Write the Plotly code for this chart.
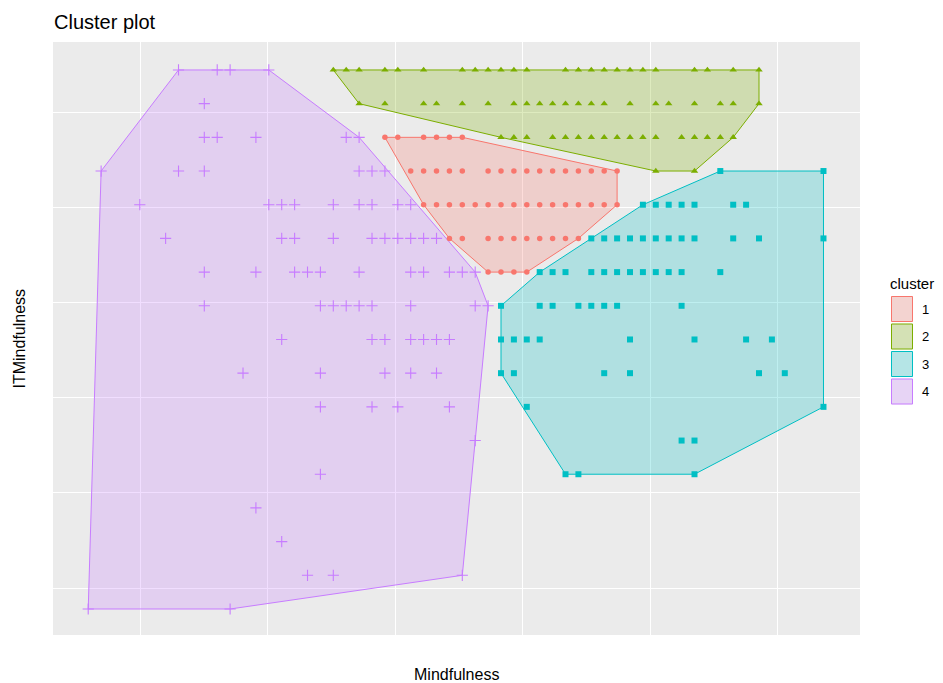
import plotly.graph_objects as go

# The page adds an 8px body margin; the figure is sized/offset to match the
# 943x683 window, and pixel coordinates below are window pixels.
OFF = 8
W, H = 943 - OFF, 683 - OFF

cluster_ids = ["1", "2", "3", "4"]
colors = ["#F8766D", "#7CAE00", "#00BFC4", "#C77CFF"]
symbols = ["circle", "triangle-up", "square", "cross-thin"]
marker_sizes = [5.5, 6.5, 6, 8]

# ITMindfulness level -> list of Mindfulness levels, per cluster
c1_rows = {
    15: [24, 25, 27, 28, 29, 30],
    14: [26, 27, 28, 29, 30, 32, 33, 34, 35, 36, 37, 38, 39, 40, 41, 42],
    13: [27, 28, 29, 30, 31, 32, 33, 34, 35, 36, 37, 38, 39, 40, 41, 42],
    12: [29, 30, 32, 33, 34, 35, 36, 37, 38, 39],
    11: [32, 33, 34, 35],
}
c2_rows = {
    17: [20, 21, 22, 24, 25, 27, 30, 31, 32, 33, 34, 35, 38, 39, 40, 41, 42,
         43, 44, 45, 48, 49, 51, 53],
    16: [22, 24, 27, 28, 30, 32, 34, 35, 36, 37, 38, 39, 40, 41, 43, 45, 46,
         48, 50, 51, 53],
    15: [33, 34, 35, 37, 38, 39, 40, 41, 42, 43, 44, 45, 47, 48, 49, 50, 51],
    14: [45, 48],
}
c3_rows = {
    14: [50, 58],
    13: [44, 45, 46, 47, 48, 51, 52],
    12: [40, 41, 42, 43, 44, 45, 46, 47, 48, 51, 53, 58],
    11: [36, 37, 38, 40, 41, 42, 43, 44, 45, 46, 47, 50],
    10: [33, 36, 37, 39, 40, 41, 42, 47],
    9: [33, 34, 35, 36, 43, 48, 52, 54],
    8: [33, 34, 41, 43, 53, 55],
    7: [35, 58],
    6: [47, 48],
    5: [38, 39, 48],
}
c4_rows = {
    17: [8, 11, 12, 15],
    16: [10],
    15: [10, 11, 14, 21, 22],
    14: [2, 8, 10, 22, 23, 24],
    13: [5, 15, 16, 17, 20, 22, 23, 25, 26],
    12: [7, 16, 17, 20, 23, 24, 25, 26, 27, 28],
    11: [10, 14, 17, 18, 19, 22, 26, 27, 29, 30, 31],
    10: [10, 19, 20, 21, 22, 23, 26, 31, 32],
    9: [16, 23, 24, 26, 27, 28, 29],
    8: [13, 19, 24, 26, 28],
    7: [19, 23, 25, 29],
    6: [31],
    5: [19],
    4: [14],
    3: [16],
    2: [18, 20, 30],
    1: [1, 12],
}
all_rows = [c1_rows, c2_rows, c3_rows, c4_rows]


def expand(rows):
    xs, ys = [], []
    for yv, xlist in rows.items():
        for xv in xlist:
            xs.append(xv)
            ys.append(yv)
    return xs, ys


def hull(xs, ys):
    pts = sorted(set(zip(xs, ys)))
    if len(pts) < 3:
        return pts

    def cross(o, a, b):
        return (a[0] - o[0]) * (b[1] - o[1]) - (a[1] - o[1]) * (b[0] - o[0])

    lower = []
    for p in pts:
        while len(lower) >= 2 and cross(lower[-2], lower[-1], p) <= 0:
            lower.pop()
        lower.append(p)
    upper = []
    for p in reversed(pts):
        while len(upper) >= 2 and cross(upper[-2], upper[-1], p) <= 0:
            upper.pop()
        upper.append(p)
    return lower[:-1] + upper[:-1]


def rgba(hexc, a):
    h = hexc.lstrip("#")
    r, g, b = int(h[0:2], 16), int(h[2:4], 16), int(h[4:6], 16)
    return f"rgba({r},{g},{b},{a})"


def marker(i):
    return dict(symbol=symbols[i], size=marker_sizes[i], color=colors[i],
                line=dict(color=colors[i], width=1.1 if i == 3 else 0))


fig = go.Figure()

# Convex hulls first (under the points)
for i, rows in enumerate(all_rows):
    xs, ys = expand(rows)
    hp = hull(xs, ys)
    hx = [p[0] for p in hp] + [hp[0][0]]
    hy = [p[1] for p in hp] + [hp[0][1]]
    fig.add_trace(go.Scatter(
        x=hx, y=hy, mode="lines", fill="toself",
        fillcolor=rgba(colors[i], 0.25),
        line=dict(color=colors[i], width=1),
        hoverinfo="skip", showlegend=False,
    ))

for i, rows in enumerate(all_rows):
    xs, ys = expand(rows)
    fig.add_trace(go.Scatter(
        x=xs, y=ys, mode="markers", name=cluster_ids[i],
        marker=marker(i), showlegend=False,
    ))

# Panel geometry (window pixels)
PL, PR, PT, PB = 53, 860, 42, 635
x_range = [-1.73, 60.83]
y_range = [0.228, 17.83]
grid_x = [5.02 + 9.89 * k for k in range(6)]
grid_y = [1.62 + 2.826 * k for k in range(6)]

fig.update_layout(
    width=W, height=H, autosize=False,
    margin=dict(l=0, r=0, t=0, b=0),
    paper_bgcolor="white", plot_bgcolor="rgba(0,0,0,0)",
    showlegend=False,
    font=dict(family="Liberation Sans, Arial, sans-serif", color="black"),
    xaxis=dict(domain=[(PL - OFF) / W, (PR - OFF) / W], range=x_range,
               tickvals=grid_x, showticklabels=False, ticks="",
               showgrid=True, gridcolor="white", gridwidth=1.2,
               zeroline=False, showline=False, fixedrange=True),
    yaxis=dict(domain=[1 - (PB - OFF) / H, 1 - (PT - OFF) / H], range=y_range,
               tickvals=grid_y, showticklabels=False, ticks="",
               showgrid=True, gridcolor="white", gridwidth=1.2,
               zeroline=False, showline=False, fixedrange=True),
    xaxis2=dict(domain=[0, 1], range=[OFF, OFF + W], visible=False,
                anchor="y2", fixedrange=True),
    yaxis2=dict(domain=[0, 1], range=[OFF + H, OFF], visible=False,
                anchor="x2", fixedrange=True),
)

shapes = [dict(type="rect", xref="x domain", yref="y domain", x0=0, x1=1,
               y0=0, y1=1, fillcolor="#EBEBEB", line=dict(width=0),
               layer="below")]

# Legend (manual, window pixel coordinates)
key_x0, key_x1 = 891, 913
key_top, key_h, key_step = 296, 26, 27.5
for i in range(4):
    y0 = key_top + i * key_step
    y1 = y0 + key_h
    shapes.append(dict(type="rect", xref="x2", yref="y2", x0=key_x0, x1=key_x1,
                       y0=y0, y1=y1, fillcolor="#F2F2F2", line=dict(width=0)))
    shapes.append(dict(type="rect", xref="x2", yref="y2", x0=key_x0 + 0.5,
                       x1=key_x1 - 0.5, y0=y0 + 0.5, y1=y1 - 0.5,
                       fillcolor=rgba(colors[i], 0.25),
                       line=dict(color=colors[i], width=1)))
    fig.add_trace(go.Scatter(
        x=[(key_x0 + key_x1) / 2], y=[(y0 + y1) / 2], xaxis="x2", yaxis="y2",
        mode="markers", marker=marker(i),
        hoverinfo="skip", showlegend=False,
    ))

annotations = [
    dict(text="Cluster plot", xref="x2", yref="y2", x=52, y=22,
         xanchor="left", yanchor="middle", showarrow=False,
         font=dict(size=20, color="black")),
    dict(text="Mindfulness", xref="x2", yref="y2", x=(PL + PR) / 2, y=674,
         xanchor="center", yanchor="middle", showarrow=False,
         font=dict(size=16, color="black")),
    dict(text="ITMindfulness", xref="x2", yref="y2", x=19, y=(PT + PB) / 2,
         xanchor="center", yanchor="middle", showarrow=False, textangle=-90,
         font=dict(size=16, color="black")),
    dict(text="cluster", xref="x2", yref="y2", x=888, y=283,
         xanchor="left", yanchor="middle", showarrow=False,
         font=dict(size=15, color="black")),
]
for i in range(4):
    y0 = key_top + i * key_step
    annotations.append(dict(text=cluster_ids[i], xref="x2", yref="y2", x=920,
                            y=y0 + key_h / 2, xanchor="left", yanchor="middle",
                            showarrow=False, font=dict(size=13, color="black")))

fig.update_layout(shapes=shapes, annotations=annotations)
fig.write_html("out.html")
